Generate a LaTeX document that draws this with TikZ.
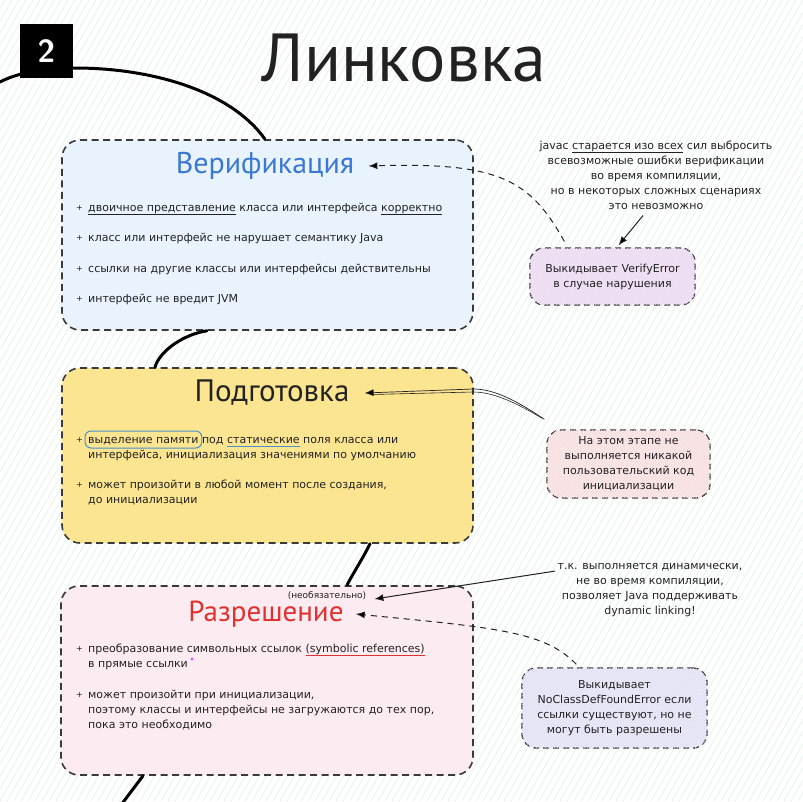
\documentclass[tikz,border=0pt]{standalone}
\usepackage{fontspec}
\setmainfont{PT Sans}
\newfontfamily\handfont{DejaVu Sans}
\usetikzlibrary{arrows.meta,patterns}

\definecolor{ink}{HTML}{222222}
\definecolor{frame}{HTML}{3A3A3A}
\definecolor{bgline}{HTML}{E3F2E7}
\definecolor{verifbg}{HTML}{E8F3FE}
\definecolor{prepbg}{HTML}{FCE590}
\definecolor{resbg}{HTML}{FDEBF2}
\definecolor{verifblue}{HTML}{3B78D0}
\definecolor{resred}{HTML}{E03131}
\definecolor{notepurple}{HTML}{F3E6F7}
\definecolor{notepurpleh}{HTML}{E6D2EC}
\definecolor{notepink}{HTML}{FCEAEB}
\definecolor{notepinkh}{HTML}{F2D5D7}
\definecolor{notelav}{HTML}{EDECFA}
\definecolor{notelavh}{HTML}{DAD8F1}
\definecolor{markblue}{HTML}{4A90C8}
\definecolor{dotviolet}{HTML}{D460F0}

% underline drawn under a word, in a given colour
\newcommand{\inkline}[2]{\setbox0\hbox{#2}\rlap{\color{#1}\rule[-4pt]{\wd0}{1pt}}\box0\relax}
% word framed by a rounded outline that takes no room
\newcommand{\ringed}[1]{\tikz[baseline=(ringword.base)]{\node[inner sep=0pt] (ringword) {#1};
  \draw[overlay, draw=markblue, line width=1pt, rounded corners=6pt]
    ([xshift=-3pt,yshift=-5pt]ringword.base west) rectangle ([xshift=3pt,yshift=12pt]ringword.base east);}}

\tikzset{
  stage/.style={draw=frame, line width=1.6pt, dash pattern=on 7pt off 4.5pt, rounded corners=18pt, inner sep=0pt},
  notebox/.style={draw=frame, line width=1.3pt, dash pattern=on 6pt off 4pt, rounded corners=14pt, inner sep=0pt},
  spine/.style={line width=3pt, line cap=round, draw=black},
  small/.style={font=\handfont\fontsize{11}{15}\selectfont, text=ink, inner sep=0pt},
  item/.style={small, anchor=base west},
  bullet/.style={small, anchor=base west, font=\handfont\fontsize{8}{10}\selectfont},
  notetext/.style={small, align=center},
  heading/.style={font=\fontsize{29}{30}\selectfont, inner sep=0pt},
  pointer/.style={draw=ink, line width=1pt, -{Latex[length=9pt,width=7pt]}},
  dashpointer/.style={pointer, dash pattern=on 6pt off 5pt},
}

\begin{document}
\begin{tikzpicture}[x=1pt,y=-1pt]
\useasboundingbox (0,0) rectangle (803,801);

% striped paper
\fill[white] (0,0) rectangle (803,801);
\begin{scope}
  \clip (0,0) rectangle (803,801);
  \foreach \i in {-70,...,116}
    \draw[bgline, line width=0.7pt] (\i*7,801) -- (\i*7+460,0);
\end{scope}

% stage boxes
\node[stage, fill=verifbg, minimum width=411pt, minimum height=190pt] (verif) at (267.5,235) {};
\node[stage, fill=prepbg, minimum width=411pt, minimum height=175pt] (prep) at (267.5,455.5) {};
\node[stage, fill=resbg, minimum width=412pt, minimum height=189pt] (res) at (267,680.5) {};

% spine
\coordinate (edge) at (0,82);
\coordinate (tail) at (121,805);
\draw[spine] (edge) .. controls (15,74) and (40,68) .. (75,68)
  .. controls (150,68) and (230,90) .. ([xshift=-2.5pt]verif.north);
\draw[spine] ([xshift=-60.5pt]verif.south) .. controls (185,334) and (160,350) .. ([xshift=-112.5pt]prep.north);
\draw[spine] ([xshift=102.5pt]prep.south) .. controls (362,560) and (352,575) .. ([xshift=80pt]res.north);
\draw[spine] ([xshift=-124pt]res.south) -- (tail);

% badge and title
\node[fill=black, minimum width=53pt, minimum height=54pt, inner sep=0pt,
      text=white, font=\sffamily\bfseries\fontsize{32}{32}\selectfont] (badge) at (46.5,51) {2};
\node[font=\fontsize{68}{70}\selectfont, text=ink, inner sep=0pt] (title) at (404,58) {Линковка};

% Верификация
\node[heading, text=verifblue, font=\fontsize{30}{30}\selectfont] (t1) at (265,166) {Верификация};
\node[bullet] (v1p) at (76,210) {+};
\node[item] (v1) at (88,211) {\inkline{ink}{двоичное представление} класса или интерфейса \inkline{ink}{корректно}};
\node[bullet] (v2p) at (76,240) {+};
\node[item] (v2) at (88,241) {класс или интерфейс не нарушает семантику Java};
\node[bullet] (v3p) at (76,271) {+};
\node[item] (v3) at (88,272) {ссылки на другие классы или интерфейсы действительны};
\node[bullet] (v4p) at (76,301) {+};
\node[item] (v4) at (88,302) {интерфейс не вредит JVM};

% Подготовка
\node[heading, text=ink, font=\fontsize{31}{31}\selectfont] (t2) at (272,393) {Подготовка};
\node[bullet] (p1p) at (76,442) {+};
\node[item] (p1) at (88,443) {\ringed{выделение памяти} под \inkline{markblue}{статические} поля класса или};
\node[item] (p1b) at (88,458) {интерфейса, инициализация значениями по умолчанию};
\node[bullet] (p2p) at (76,487) {+};
\node[item] (p2) at (88,488) {может произойти в любой момент после создания,};
\node[item] (p2b) at (88,503) {до инициализации};

% Разрешение
\node[heading, text=resred] (t3) at (266,614) {Разрешение};
\node[small, font=\handfont\fontsize{9}{11}\selectfont] (opt) at (327,596) {(необязательно)};
\node[bullet] (r1p) at (76,651) {+};
\node[item] (r1) at (88,652) {преобразование символьных ссылок \inkline{resred}{(symbolic references)}};
\node[item] (r1b) at (88,667) {в прямые ссылки};
\fill[dotviolet] ([xshift=4pt,yshift=8pt]r1b.base east) circle (1.6pt);
\node[bullet] (r2p) at (76,697) {+};
\node[item] (r2) at (88,698) {может произойти при инициализации,};
\node[item] (r2b) at (88,713) {поэтому классы и интерфейсы не загружаются до тех пор,};
\node[item] (r2c) at (88,728) {пока это необходимо};

% side notes
\node[notetext] (nt1) at (656,175) {javac \inkline{ink}{старается изо всех} сил выбросить\\всевозможные ошибки верификации\\во время компиляции,\\но в некоторых сложных сценариях\\это невозможно};
\node[notebox, fill=notepurple, postaction={pattern=north east lines, pattern color=notepurpleh},
      minimum width=165pt, minimum height=57pt] (n1) at (612.5,276.5) {};
\node[notetext] (n1t) at (n1) {Выкидывает VerifyError\\в случае нарушения};

\node[notebox, fill=notepink, postaction={pattern=north east lines, pattern color=notepinkh},
      minimum width=163pt, minimum height=68pt] (n2) at (628.5,464) {};
\node[notetext] (n2t) at (n2) {На этом этапе не\\выполняется никакой\\пользовательский код\\инициализации};

\node[notetext] (nt3) at (650,590) {т.к. выполняется динамически,\\не во время компиляции,\\позволяет Java поддерживать\\dynamic linking!};
\node[notebox, fill=notelav, postaction={pattern=north east lines, pattern color=notelavh},
      minimum width=185pt, minimum height=80pt] (n4) at (614.5,708) {};
\node[notetext] (n4t) at (n4) {Выкидывает\\NoClassDefFoundError если\\ссылки существуют, но не\\могут быть разрешены};

% pointers
\draw[pointer] ([xshift=-13pt,yshift=-6pt]nt1.south) -- ([xshift=6pt,yshift=2pt]n1.north);
\draw[dashpointer] ([xshift=35pt,yshift=6pt]n1.north west) .. controls (530,180) and (500,162) .. ([xshift=14pt]t1.east);
\draw[pointer, line width=0.7pt] ([xshift=-2pt,yshift=10pt]n2.north west) .. controls (510,396) and (490,389) .. (473,389) -- ([xshift=15pt]t2.east);
\draw[ink, line width=0.6pt] ([xshift=-4pt,yshift=11pt]n2.north west) .. controls (510,399) and (490,392) .. (473,392) -- ([xshift=22pt,yshift=-1.5pt]t2.east);
\draw[pointer] ([xshift=-95pt,yshift=-8pt]nt3.north) -- ([xshift=8pt,yshift=-3pt]opt.east);
\draw[dashpointer] ([xshift=55pt,yshift=3pt]n4.north west) .. controls (545,632) and (500,628) .. ([xshift=12pt]t3.east);
\end{tikzpicture}
\end{document}
